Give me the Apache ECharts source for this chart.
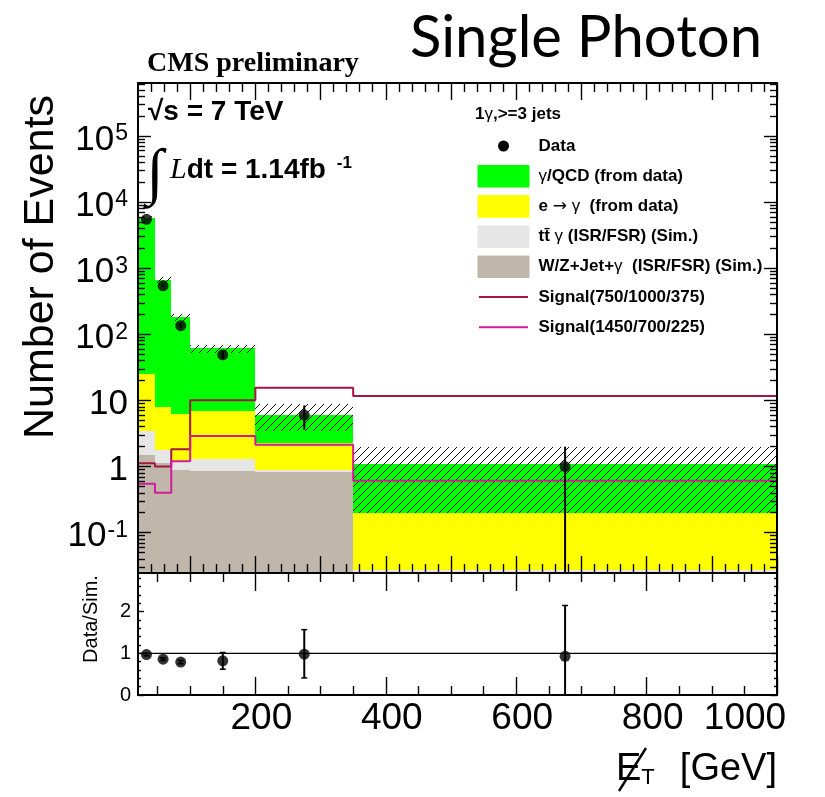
<!DOCTYPE html>
<html><head><meta charset="utf-8">
<script src="https://cdn.jsdelivr.net/npm/echarts@6/dist/echarts.min.js"></script>
<style>html,body{margin:0;padding:0;background:#fff;}#chart{width:825px;height:797px;}</style>
</head><body><div id="chart"></div>
<script>
// ---------------- data ----------------
const binEdges = [20, 46, 71, 100, 200, 350, 1000];          // MET bin edges [GeV]
const wzJetGamma = [1.5, 1.15, 0.88, 0.86, 0.83, 0.015];       // W/Z+Jet+gamma (Sim.)
const ttGamma    = [1.97, 0.62, 0.34, 0.44, 0.05, 0.012];      // tt gamma (Sim.)
const eToGamma   = [21.5, 6.2, 5.1, 5.7, 1.35, 0.17];          // e -> gamma (from data)
const gammaQCD   = [5825, 652, 174, 55, 3.8, 0.91];            // gamma/QCD (from data)
const uncLow     = [5600, 600, 160, 52, 3.5, 0.2];             // hatched uncertainty band
const uncHigh    = [6150, 740, 200, 68, 8.8, 1.94];
const dataVal     = [5500, 542, 135, 49, 6.0, 1.0];
const dataErrLow  = [5430, 520, 124, 42, 3.6, 0];
const dataErrHigh = [5570, 565, 147, 56, 8.4, 2.0];
const signal1 = [1.12, 1.0, 1.83, 10.1, 15.6, 11.7];           // Signal(750/1000/375)
const signal2 = [0.55, 0.40, 1.2, 2.9, 2.13, 0.61];            // Signal(1450/700/225)
const ratioVal  = [0.97, 0.86, 0.79, 0.82, 0.98, 0.93];
const ratioLow  = [0.94, 0.83, 0.75, 0.62, 0.41, 0];
const ratioHigh = [1.00, 0.89, 0.83, 1.02, 1.57, 2.15];
const yTickLabels = [0.1, 1, 10, 100, 1000, 10000, 100000];
const xTickLabels = [200, 400, 600, 800, 1000];
const ratioTickLabels = [0, 1, 2];
const legendLabels = ['Data', 'γ/QCD (from data)', 'e → γ  (from data)', 'tt̄ γ (ISR/FSR) (Sim.)',
                      'W/Z+Jet+γ  (ISR/FSR) (Sim.)', 'Signal(750/1000/375)', 'Signal(1450/700/225)'];

// ---------------- ranges / styles ----------------
const X_MIN = 20, X_MAX = 1000;
const Y_MIN = 0.0245, Y_MAX = 6.34e5;
const R_MIN = 0, R_MAX = 2.93;
const SANS = '"Liberation Sans", Arial, Helvetica, sans-serif';
const SERIF = '"Liberation Serif", "Times New Roman", serif';
const C_QCD = '#00ff00', C_EG = '#ffff00', C_TT = '#e6e6e6', C_WZ = '#c1b6aa';
const C_SIG1 = '#a3163f', C_SIG2 = '#d21c9c';

const chart = echarts.init(document.getElementById('chart'), null, {renderer: 'canvas'});
const centers = binEdges.slice(0, -1).map((e, i) => (e + binEdges[i + 1]) / 2);

// tick positions
const xMinorTop = [], xMajorTop = [], xMinorBot = [];
for (let v = 40; v < X_MAX; v += 20) { if (v % 100 !== 0) xMinorTop.push(v); }
for (let v = 100; v <= X_MAX; v += 100) xMajorTop.push(v);
for (let v = 50; v < X_MAX; v += 50) { if (v % 200 !== 0) xMinorBot.push(v); }
const yMinorLog = [];
for (let e = -2; e <= 5; e++) for (let k = 2; k <= 9; k++) { const v = k * Math.pow(10, e); if (v > Y_MIN && v < Y_MAX) yMinorLog.push(v); }
const rMinor = [];
for (let i = 1; i < 15; i++) { const v = +(i * 0.2).toFixed(1); if (v % 1 !== 0 && v < R_MAX) rMinor.push(v); }

function xFmt(v) { return v === X_MAX ? '{q|' + v + '}' : '{p|' + v + '}'; }
function xAx(grid, position, ticks, len, label, line) {
  return {type: 'value', gridIndex: grid, position, min: X_MIN, max: X_MAX, z: 10,
    axisLine: {show: line, onZero: false, lineStyle: {color: '#000', width: 2}},
    axisTick: {show: true, inside: true, length: len, customValues: ticks, lineStyle: {color: '#000', width: 1.4}},
    axisLabel: label ? {show: true, customValues: xTickLabels, margin: 5, color: '#000', formatter: xFmt,
      rich: {p: {fontSize: 37, fontFamily: SANS, color: '#000', padding: [0, 0, 0, 12]},
             q: {fontSize: 37, fontFamily: SANS, color: '#000', padding: [0, 64, 0, 0]}}} : {show: false},
    splitLine: {show: false}, minorTick: {show: false}};
}
function supFmt(v) {
  const e = Math.round(Math.log10(v));
  if (e === 0) return '{b|1}';
  if (e === 1) return '{b|10}';
  return '{b|10}{s|' + e + '}';
}
function yLog(position, ticks, len, label, line) {
  return {type: 'log', logBase: 10, gridIndex: 0, position, min: Y_MIN, max: Y_MAX, z: 10,
    axisLine: {show: line, onZero: false, lineStyle: {color: '#000', width: 2}},
    axisTick: {show: true, inside: true, length: len, customValues: ticks, lineStyle: {color: '#000', width: 1.4}},
    axisLabel: label ? {show: true, customValues: yTickLabels, margin: 10, formatter: supFmt, padding: [8, 0, 0, 0],
      rich: {b: {fontSize: 35, fontFamily: SANS, color: '#000'},
             s: {fontSize: 23, fontFamily: SANS, color: '#000', verticalAlign: 'top', padding: [0, 0, 0, 1]}}} : {show: false},
    splitLine: {show: false}, minorTick: {show: false}};
}
function yRatio(position, ticks, len, label, line) {
  return {type: 'value', gridIndex: 1, position, min: R_MIN, max: R_MAX, z: 10,
    axisLine: {show: line, onZero: false, lineStyle: {color: '#000', width: 2}},
    axisTick: {show: true, inside: true, length: len, customValues: ticks, lineStyle: {color: '#000', width: 1.4}},
    axisLabel: label ? {show: true, customValues: ratioTickLabels, margin: 7, fontSize: 20, fontFamily: SANS, color: '#000'} : {show: false},
    splitLine: {show: false}, minorTick: {show: false}};
}

// ---------------- render helpers ----------------
function gridRect(params) { const c = params.coordSys; return {x: c.x, y: c.y, width: c.width, height: c.height}; }
function rectItem(fill) {
  return function (params, api) {
    const lo = api.value(2), hi = api.value(3);
    if (!(hi > lo)) return null;
    const p0 = api.coord([api.value(0), hi]);
    const p1 = api.coord([api.value(1), lo]);
    const x0 = Math.round(p0[0]), x1 = Math.round(p1[0]), y0 = Math.round(p0[1]), y1 = Math.round(p1[1]);
    const shape = echarts.graphic.clipRectByRect({x: x0, y: y0, width: x1 - x0, height: y1 - y0}, gridRect(params));
    return shape ? {type: 'rect', shape, style: {fill}} : null;
  };
}
function errItem(cap) {
  return function (params, api) {
    const x = api.value(0);
    const lo = api.coord([x, api.value(1)]), hi = api.coord([x, api.value(2)]);
    const ch = [{type: 'line', shape: {x1: lo[0], y1: lo[1], x2: hi[0], y2: hi[1]}, style: {stroke: '#000', lineWidth: 2}}];
    if (cap) {
      ch.push({type: 'line', shape: {x1: hi[0] - cap, y1: hi[1], x2: hi[0] + cap, y2: hi[1]}, style: {stroke: '#000', lineWidth: 1.5}});
      ch.push({type: 'line', shape: {x1: lo[0] - cap, y1: lo[1], x2: lo[0] + cap, y2: lo[1]}, style: {stroke: '#000', lineWidth: 1.5}});
    }
    return {type: 'group', children: ch};
  };
}
// hatch pattern (ROOT 3004 style)
const hatch = document.createElement('canvas');
hatch.width = 8; hatch.height = 8;
(function () { const g = hatch.getContext('2d'); g.strokeStyle = '#111'; g.lineWidth = 1;
  g.beginPath(); g.moveTo(0, 8); g.lineTo(8, 0); g.moveTo(-1, 1); g.lineTo(1, -1); g.moveTo(7, 9); g.lineTo(9, 7); g.stroke(); })();

// ---------------- series ----------------
const series = [];
const comps = [
  {name: 'W/Z+Jet+γ (ISR/FSR) (Sim.)', vals: wzJetGamma, color: C_WZ},
  {name: 'tt̄γ (ISR/FSR) (Sim.)', vals: ttGamma, color: C_TT},
  {name: 'e → γ (from data)', vals: eToGamma, color: C_EG},
  {name: 'γ/QCD (from data)', vals: gammaQCD, color: C_QCD}
];
const cum = centers.map(() => 0);
comps.forEach(c => {
  const data = c.vals.map((v, i) => {
    const lo = cum[i]; const hi = lo + v; cum[i] = hi;
    return [binEdges[i], binEdges[i + 1], Math.max(lo, Y_MIN), Math.max(hi, Y_MIN)];
  });
  series.push({type: 'custom', name: c.name, xAxisIndex: 0, yAxisIndex: 0, z: 2,
    renderItem: rectItem(c.color), encode: {x: [0, 1], y: [2, 3]}, data, silent: true});
});
series.push({type: 'custom', name: 'Uncertainty', xAxisIndex: 0, yAxisIndex: 0, z: 3,
  renderItem: rectItem({image: hatch, repeat: 'repeat'}), encode: {x: [0, 1], y: [2, 3]},
  data: uncLow.map((v, i) => [binEdges[i], binEdges[i + 1], v, uncHigh[i]]), silent: true});

function stepData(vals) {
  const d = vals.map((v, i) => [binEdges[i], v]);
  d.push([binEdges[binEdges.length - 1], vals[vals.length - 1]]);
  d.push([binEdges[binEdges.length - 1], Y_MIN]);
  return d;
}
series.push({type: 'line', name: 'Signal(750/1000/375)', xAxisIndex: 0, yAxisIndex: 0, z: 4, step: 'end',
  symbol: 'none', lineStyle: {color: C_SIG1, width: 2}, data: stepData(signal1), silent: true});
series.push({type: 'line', name: 'Signal(1450/700/225)', xAxisIndex: 0, yAxisIndex: 0, z: 4, step: 'end',
  symbol: 'none', lineStyle: {color: C_SIG2, width: 2}, data: stepData(signal2), silent: true});

series.push({type: 'custom', name: 'Data err', xAxisIndex: 0, yAxisIndex: 0, z: 5, renderItem: errItem(0),
  encode: {x: 0, y: [1, 2]}, data: centers.map((x, i) => [x, Math.max(dataErrLow[i], Y_MIN), dataErrHigh[i]]), silent: true});
series.push({type: 'scatter', name: 'Data', xAxisIndex: 0, yAxisIndex: 0, z: 6, symbol: 'circle', symbolSize: 11,
  itemStyle: {color: '#000'}, data: centers.map((x, i) => [x, dataVal[i]]), silent: true});

// ratio panel
series.push({type: 'line', name: 'unity', xAxisIndex: 4, yAxisIndex: 4, z: 3, symbol: 'none',
  lineStyle: {color: '#000', width: 1.2}, data: [[X_MIN, 1], [X_MAX, 1]], silent: true});
series.push({type: 'custom', name: 'Ratio err', xAxisIndex: 4, yAxisIndex: 4, z: 5, renderItem: errItem(3),
  encode: {x: 0, y: [1, 2]}, data: centers.map((x, i) => [x, ratioLow[i], ratioHigh[i]]), silent: true});
series.push({type: 'scatter', name: 'Ratio', xAxisIndex: 4, yAxisIndex: 4, z: 6, symbol: 'circle', symbolSize: 11,
  itemStyle: {color: '#000'}, data: centers.map((x, i) => [x, ratioVal[i]]), silent: true});

// ---------------- text & legend ----------------
function txt(text, x, y, font, align, extra) {
  return Object.assign({type: 'text', z: 20, silent: true,
    style: {text, x, y, font, fill: '#000', textAlign: align || 'left', textVerticalAlign: 'middle'}}, extra || {});
}
const graphics = [];
graphics.push(txt('Single Photon', 410, 38, '58px Lato', 'left'));
graphics.push(txt('CMS preliminary', 147, 64, 'bold 28px ' + SERIF, 'left'));
graphics.push(txt('√s = 7 TeV', 148, 112, 'bold 28px ' + SANS, 'left'));
graphics.push(txt('∫', 155, 176, '62px ' + SERIF, 'center'));
graphics.push({type: 'text', z: 20, silent: true, style: {x: 170, y: 170, textVerticalAlign: 'middle', fill: '#000',
  text: '{L|L}{t|dt = 1.14fb }{s|-1}',
  rich: {L: {font: 'italic 30px ' + SERIF}, t: {font: 'bold 28px ' + SANS},
         s: {font: 'bold 17px ' + SANS, verticalAlign: 'top', padding: [0, 0, 0, 3]}}}});
// axis titles
graphics.push({type: 'text', z: 20, silent: true, x: 41, y: 267, rotation: Math.PI / 2,
  style: {text: 'Number of Events', x: 0, y: 0, font: '43px ' + SANS, fill: '#000', textAlign: 'center', textVerticalAlign: 'middle'}});
graphics.push({type: 'text', z: 20, silent: true, x: 91, y: 619, rotation: Math.PI / 2,
  style: {text: 'Data/Sim.', x: 0, y: 0, font: '20px ' + SANS, fill: '#000', textAlign: 'center', textVerticalAlign: 'middle'}});
// x title: E (slashed) with subscript T, then [GeV]
graphics.push({type: 'text', z: 20, silent: true, style: {x: 616, y: 770, textAlign: 'left', textVerticalAlign: 'middle', fill: '#000',
  text: '{e|E}{sub|T}', rich: {e: {font: '38px ' + SANS}, sub: {font: '22px ' + SANS, verticalAlign: 'bottom'}}}});
graphics.push({type: 'line', z: 21, silent: true, shape: {x1: 619, y1: 791, x2: 646, y2: 748}, style: {stroke: '#000', lineWidth: 2.4}});
graphics.push(txt('[GeV]', 777, 770, '38px ' + SANS, 'right'));
// legend
graphics.push({type: 'text', z: 20, silent: true, style: {x: 475, y: 114, textVerticalAlign: 'middle', fill: '#000',
  text: '{a|1}{g|γ}{a|,>=3 jets}', rich: {a: {font: 'bold 17px ' + SANS}, g: {font: '17px ' + SANS}}}});
const legendKinds = [
  {kind: 'marker'}, {kind: 'box', color: C_QCD}, {kind: 'box', color: C_EG}, {kind: 'box', color: C_TT},
  {kind: 'box', color: C_WZ}, {kind: 'line', color: C_SIG1}, {kind: 'line', color: C_SIG2}
];
legendKinds.forEach((k, i) => {
  const yc = 146 + i * 30.2;
  if (k.kind === 'marker') graphics.push({type: 'circle', z: 20, silent: true, shape: {cx: 503.5, cy: yc, r: 5.5}, style: {fill: '#000'}});
  if (k.kind === 'box') graphics.push({type: 'rect', z: 20, silent: true, shape: {x: 477.5, y: yc - 11.3, width: 52, height: 22.6, r: 1}, style: {fill: k.color}});
  if (k.kind === 'line') graphics.push({type: 'line', z: 20, silent: true, shape: {x1: 479, y1: yc, x2: 528, y2: yc}, style: {stroke: k.color, lineWidth: 2}});
  // symbols (γ, →) in regular weight, the rest bold
  const pieces = legendLabels[i].split(/([γ→])/);
  let rt = '';
  pieces.forEach(p => { if (!p) return; rt += (p === 'γ' ? '{g|γ}' : p === '→' ? '{r|→}' : '{a|' + p + '}'); });
  graphics.push({type: 'text', z: 20, silent: true, style: {x: 538.5, y: yc, textVerticalAlign: 'middle', fill: '#000', text: rt,
    rich: {a: {font: 'bold 17px ' + SANS}, g: {font: '17px ' + SANS}, r: {font: '17px "DejaVu Sans", sans-serif'}}}});
});

const option = {
  animation: false,
  backgroundColor: '#fff',
  textStyle: {fontFamily: SANS},
  grid: [
    {left: 138, top: 83, width: 639, height: 490, containLabel: false},
    {left: 138, top: 573, width: 639, height: 122, containLabel: false}
  ],
  xAxis: [
    xAx(0, 'bottom', xMajorTop, 17, false, true),
    xAx(0, 'bottom', xMinorTop, 9, false, false),
    xAx(0, 'top', xMajorTop, 17, false, true),
    xAx(0, 'top', xMinorTop, 9, false, false),
    xAx(1, 'bottom', xTickLabels, 18, true, true),
    xAx(1, 'bottom', xMinorBot, 9, false, false),
    xAx(1, 'top', xTickLabels, 18, false, true),
    xAx(1, 'top', xMinorBot, 9, false, false)
  ],
  yAxis: [
    yLog('left', yTickLabels, 13, true, true),
    yLog('left', yMinorLog, 7, false, false),
    yLog('right', yTickLabels, 13, false, true),
    yLog('right', yMinorLog, 7, false, false),
    yRatio('left', ratioTickLabels, 6, true, true),
    yRatio('left', rMinor, 3, false, false),
    yRatio('right', ratioTickLabels, 6, false, true),
    yRatio('right', rMinor, 3, false, false)
  ],
  series,
  graphic: graphics
};
chart.setOption(option);
</script>
</body></html>
